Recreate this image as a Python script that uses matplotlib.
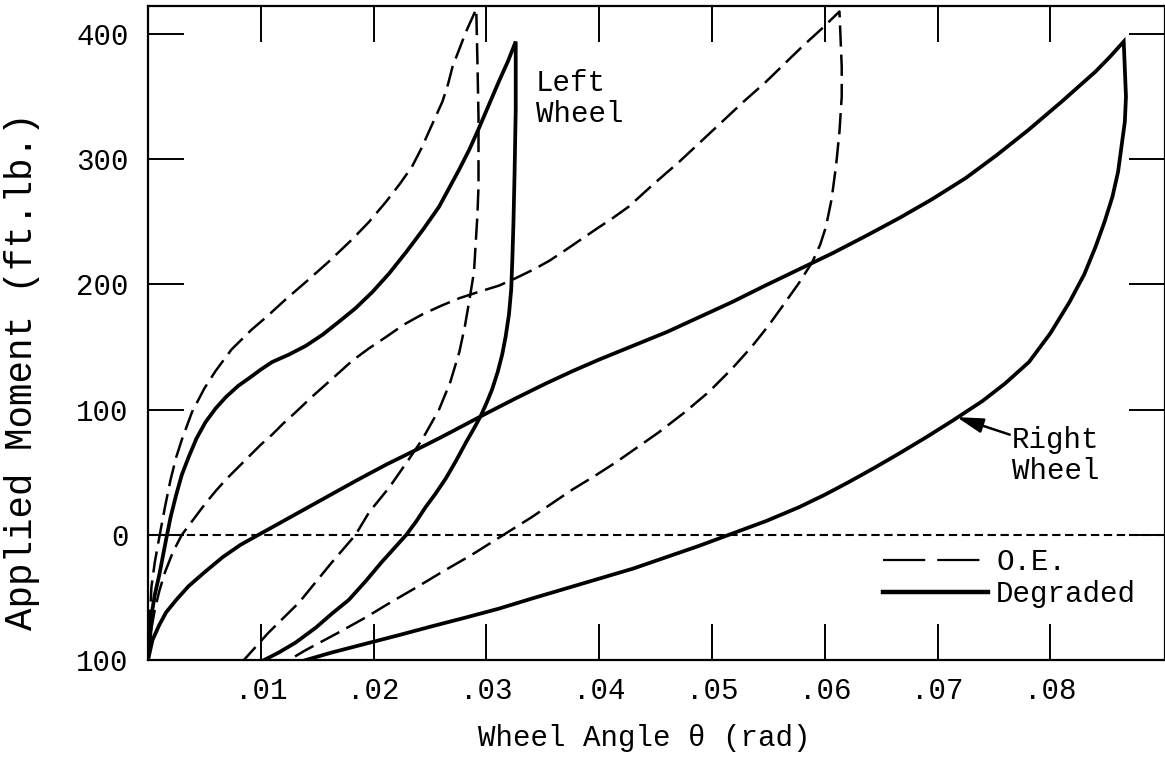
import matplotlib as mpl

mpl.use('Agg')
import matplotlib.pyplot as plt
from matplotlib.lines import Line2D

plt.rcParams['font.family'] = ['Liberation Mono', 'DejaVu Sans']

# Left wheel, O.E. (dashed): loading branch, then unloading branch
oe_left_load_x = [0, 0.0003, 0.0006, 0.0010, 0.0015, 0.0020, 0.0025, 0.0030, 0.0039, 0.0050,
                  0.0060, 0.0074, 0.0092, 0.0105, 0.0122, 0.0140, 0.0160, 0.0181, 0.0196,
                  0.0211, 0.0223, 0.0234, 0.0242, 0.0249, 0.0255, 0.0261, 0.0266, 0.0270,
                  0.0276, 0.0282, 0.0287, 0.0291]
oe_left_load_m = [-100, -42, -22, -2, 22, 44, 62, 76, 98, 117,
                  131, 148, 164, 174, 188, 202, 218, 236, 250,
                  266, 280, 294, 308, 322, 334, 346, 360, 374,
                  388, 402, 412, 420]
oe_left_unload_x = [0.0291, 0.0292, 0.0293, 0.0293, 0.0293, 0.0292, 0.0289, 0.0285, 0.0281,
                    0.0276, 0.0268, 0.0258, 0.0243, 0.0231, 0.0214, 0.0196, 0.0184, 0.0163,
                    0.0134, 0.0107, 0.0085]
oe_left_unload_m = [420, 380, 334, 300, 278, 255, 210, 188, 167,
                    146, 122, 100, 76, 60, 38, 18, 0, -22,
                    -54, -78, -100]

# Left wheel, degraded (solid)
dg_left_load_x = [0, 0.0002, 0.00035, 0.0006, 0.0010, 0.0016, 0.0020, 0.0025, 0.0030, 0.0036,
                  0.0043, 0.0051, 0.0060, 0.0069, 0.0080, 0.0091, 0.0100, 0.0110, 0.0125,
                  0.0140, 0.0155, 0.0169, 0.0184, 0.0199, 0.0214, 0.0229, 0.0244, 0.0258,
                  0.0267, 0.0276, 0.0285, 0.0293, 0.0302, 0.0311, 0.0319, 0.0326]
dg_left_load_m = [-100, -80, -62, -48, -32, -4, 14, 32, 48, 62,
                  77, 90, 101, 110, 119, 126, 132, 138, 144,
                  151, 160, 170, 181, 194, 209, 226, 244, 262,
                  277, 292, 308, 324, 343, 362, 378, 394]
dg_left_unload_x = [0.0326, 0.0326, 0.0325, 0.0324, 0.0323, 0.0322, 0.0320, 0.0317, 0.0314,
                    0.0310, 0.0305, 0.0300, 0.0295, 0.0289, 0.0282, 0.0273, 0.0264, 0.0255,
                    0.0246, 0.0238, 0.0229, 0.0218, 0.0207, 0.0193, 0.0178, 0.0163, 0.0149,
                    0.0131, 0.0116, 0.0103]
dg_left_unload_m = [394, 340, 290, 250, 220, 196, 176, 158, 144,
                    130, 116, 105, 95, 85, 74, 59, 45, 33,
                    22, 11, 0, -11, -22, -37, -52, -63, -74,
                    -86, -94, -100]

# Right wheel, O.E. (dashed)
oe_right_load_x = [0, 0.0002, 0.0006, 0.0010, 0.0015, 0.0022, 0.0030, 0.0040, 0.0050, 0.0060,
                   0.0070, 0.0080, 0.0090, 0.0100, 0.0110, 0.0120, 0.0131, 0.0145, 0.0160,
                   0.0181, 0.0196, 0.0211, 0.0227, 0.0243, 0.0260, 0.0276, 0.0293, 0.0311,
                   0.0326, 0.0342, 0.0356, 0.0371, 0.0384, 0.0397, 0.0412, 0.0426, 0.0448,
                   0.0471, 0.0490, 0.0509, 0.0528, 0.0548, 0.0564, 0.0580, 0.0597, 0.0613]
oe_right_load_m = [-100, -80, -60, -45, -30, -14, 0, 12, 24, 35,
                   45, 54, 63, 72, 80, 89, 98, 110, 122,
                   139, 149, 158, 168, 176, 183, 189, 194, 199,
                   205, 212, 219, 228, 236, 244, 253, 262, 280,
                   298, 314, 330, 346, 362, 376, 390, 404, 418]
oe_right_unload_x = [0.0613, 0.0614, 0.0615, 0.0615, 0.0613, 0.0610, 0.0606, 0.0601, 0.0596,
                     0.0589, 0.0577, 0.0562, 0.0550, 0.0535, 0.0517, 0.0497, 0.0476, 0.0453,
                     0.0434, 0.0415, 0.0396, 0.0376, 0.0358, 0.0340, 0.0317, 0.0287, 0.0262,
                     0.0238, 0.0215, 0.0193, 0.0167, 0.0140, 0.0125]
oe_right_unload_m = [418, 396, 374, 350, 322, 295, 268, 246, 232,
                     218, 201, 182, 167, 150, 132, 114, 98, 82,
                     70, 58, 47, 36, 25, 14, 1, -16, -29,
                     -42, -54, -66, -79, -92, -100]

# Right wheel, degraded (solid)
dg_right_load_x = [0, 0.0004, 0.0010, 0.0016, 0.0025, 0.0036, 0.0050, 0.0066, 0.0082, 0.0098,
                   0.0120, 0.0140, 0.0162, 0.0184, 0.0211, 0.0238, 0.0260, 0.0279, 0.0300,
                   0.0326, 0.0353, 0.0377, 0.0400, 0.0430, 0.0460, 0.0489, 0.0518, 0.0547,
                   0.0577, 0.0607, 0.0637, 0.0666, 0.0695, 0.0725, 0.0752, 0.0780, 0.0810,
                   0.0825, 0.0840, 0.0853, 0.0865]
dg_right_load_m = [-100, -84, -72, -62, -52, -41, -30, -18, -8, 0,
                   11, 21, 32, 43, 56, 68, 78, 87, 97,
                   109, 121, 131, 140, 151, 162, 174, 186, 199,
                   212, 225, 239, 253, 268, 285, 303, 323, 346,
                   358, 370, 382, 394]
dg_right_unload_x = [0.0865, 0.0866, 0.0867, 0.0866, 0.0863, 0.0860, 0.0855, 0.0848, 0.0840,
                     0.0830, 0.0817, 0.0800, 0.0781, 0.0760, 0.0740, 0.0713, 0.0690, 0.0666,
                     0.0643, 0.0621, 0.0600, 0.0577, 0.0548, 0.0518, 0.0488, 0.0459, 0.0430,
                     0.0400, 0.0370, 0.0340, 0.0311, 0.0282, 0.0252, 0.0223, 0.0193, 0.0163,
                     0.0140]
dg_right_unload_m = [394, 372, 350, 330, 310, 290, 270, 250, 230,
                     208, 186, 161, 138, 121, 107, 91, 78, 65,
                     53, 42, 32, 22, 11, 1, -9, -18, -27,
                     -35, -43, -51, -59, -66, -73, -80, -87, -94,
                     -100]

xticks = [0.01, 0.02, 0.03, 0.04, 0.05, 0.06, 0.07, 0.08]
xticklabels = ['.01', '.02', '.03', '.04', '.05', '.06', '.07', '.08']
yticks = [-100, 0, 100, 200, 300, 400]
yticklabels = ['100', '0', '100', '200', '300', '400']

W, H = 1165, 765
fig = plt.figure(figsize=(W / 100, H / 100), dpi=100)
ax = fig.add_axes([148 / W, (H - 660) / H, (W - 148) / W, 654 / H])

oe_style = dict(color='black', lw=1.8, dashes=(8.5, 3.2))
dg_style = dict(color='black', lw=2.7, solid_joinstyle='miter')

ax.plot(oe_left_load_x + oe_left_unload_x[1:], oe_left_load_m + oe_left_unload_m[1:], **oe_style)
ax.plot(oe_right_load_x + oe_right_unload_x[1:], oe_right_load_m + oe_right_unload_m[1:], **oe_style)
ax.plot(dg_left_load_x + dg_left_unload_x[1:], dg_left_load_m + dg_left_unload_m[1:], **dg_style)
ax.plot(dg_right_load_x + dg_right_unload_x[1:], dg_right_load_m + dg_right_unload_m[1:], **dg_style)

ax.axhline(0, color='black', lw=1.5, dashes=(4, 2.2))

ax.set_xlim(0, (W - 148) / 11280)
ax.set_ylim(-100, 422.4)

ax.set_xticks(xticks)
ax.set_xticklabels(xticklabels)
ax.set_yticks(yticks)
ax.set_yticklabels(yticklabels)
ax.tick_params(direction='in', length=26, width=1.4, labelsize=21, top=True, right=True,
               color='black')
ax.tick_params(axis='y', pad=14)
ax.tick_params(axis='x', pad=12)
for s in ax.spines.values():
    s.set_linewidth(1.6)

# annotations
ax.text(0.0344, 372, 'Left\nWheel', fontsize=21, ha='left', va='top', linespacing=1.15)
ax.text(0.0766, 87, 'Right\nWheel', fontsize=21, ha='left', va='top', linespacing=1.15)
ax.annotate('', xy=(0.0717, 94), xytext=(0.0764, 80),
            arrowprops=dict(arrowstyle='-|>,head_length=1.6,head_width=0.45', color='black',
                            lw=1.8, shrinkA=0, shrinkB=0))

handles = [Line2D([], [], color='black', lw=1.6, dashes=(19, 5.4)),
           Line2D([], [], color='black', lw=3.2)]
ax.legend(handles, ['O.E.', 'Degraded'], loc='upper left', frameon=False, fontsize=21,
          handlelength=3.6, handletextpad=0.28, labelspacing=0.14, borderpad=0, borderaxespad=0,
          bbox_to_anchor=(883 / W, 1 - 548 / H), bbox_transform=fig.transFigure)

fig.text(22 / W, 1 - 371 / H, 'Applied Moment (ft.lb.)', rotation=90, ha='center', va='center',
         fontsize=27)
fig.text(644 / W, 1 - 738 / H, 'Wheel Angle θ (rad)', ha='center', va='center', fontsize=21)

fig.savefig('out.png', dpi=100)
